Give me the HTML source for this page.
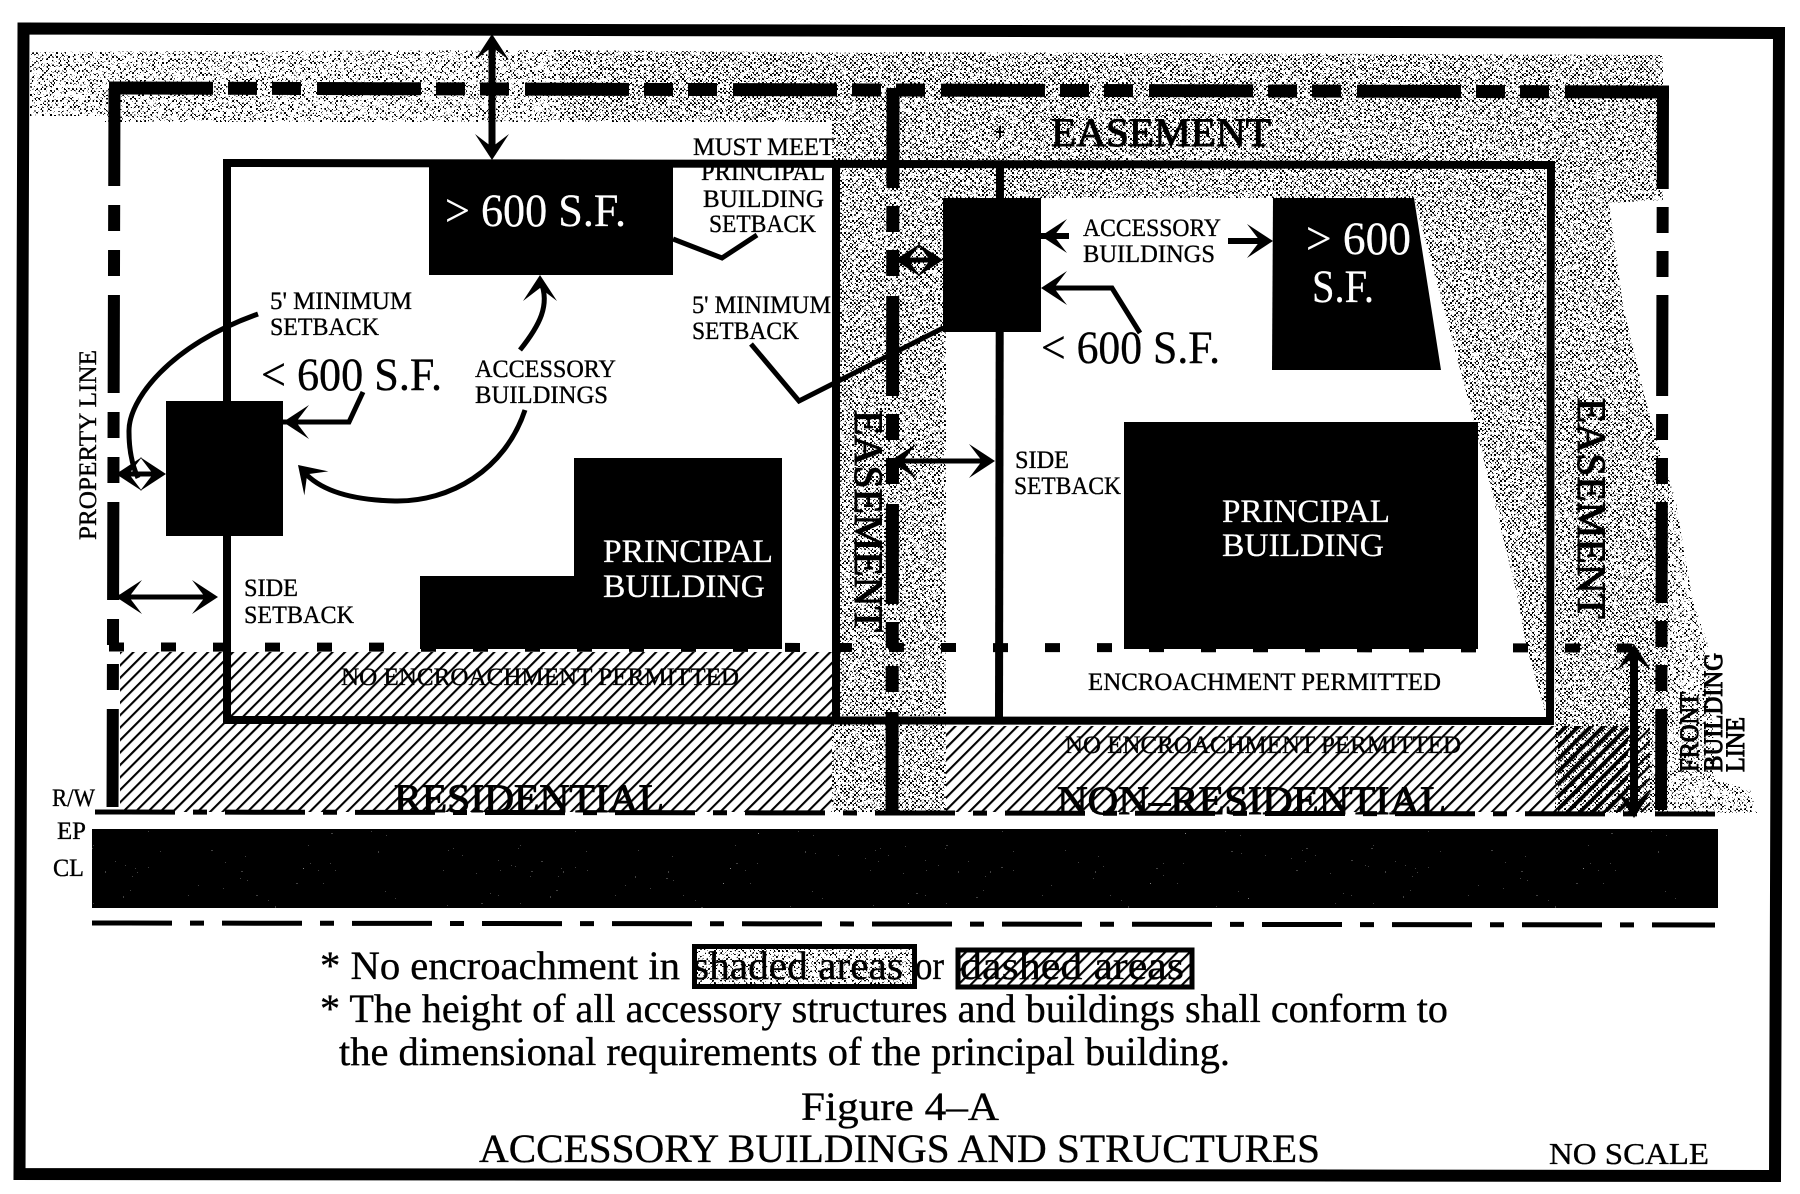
<!DOCTYPE html>
<html><head><meta charset="utf-8"><title>Figure 4-A</title>
<style>
html,body{margin:0;padding:0;background:#fff}
svg{display:block}
text{font-family:"Liberation Serif",serif;fill:#000;stroke:#000;stroke-width:.35px}
text.w{fill:#fff;stroke:#fff;stroke-width:.25px}
text.b{stroke-width:1px}
</style></head><body>
<svg xmlns="http://www.w3.org/2000/svg" width="1800" height="1194" viewBox="0 0 1800 1194">
<defs>
<pattern id="g" width="4" height="4" patternUnits="userSpaceOnUse">
<rect x="0" y="0" width="2" height="2" fill="#000"/><rect x="2" y="2" width="2" height="2" fill="#000"/>
</pattern>
<filter id="d" x="0" y="0" width="1" height="1" color-interpolation-filters="sRGB">
<feTurbulence type="fractalNoise" baseFrequency="0.34" numOctaves="2" seed="3" result="n"/>
<feColorMatrix in="n" values="0 0 0 0 0 0 0 0 0 0 0 0 0 0 0 0 0 0 1 0" result="a"/>
<feComponentTransfer in="a" result="t"><feFuncA type="discrete" tableValues="0 0 0 0 0 0 0 0 0 0 1 1 1 1 1 1 1 1 1 1"/></feComponentTransfer>
<feComposite in="SourceGraphic" in2="t" operator="in"/>
</filter>
<filter id="l" x="0" y="0" width="1" height="1" color-interpolation-filters="sRGB">
<feTurbulence type="fractalNoise" baseFrequency="0.34" numOctaves="2" seed="8" result="n"/>
<feColorMatrix in="n" values="0 0 0 0 0 0 0 0 0 0 0 0 0 0 0 0 0 0 1 0" result="a"/>
<feComponentTransfer in="a" result="t"><feFuncA type="discrete" tableValues="0 0 0 0 0 0 0 0 0 0 0 1 1 1 1 1 1 1 1 1"/></feComponentTransfer>
<feComposite in="SourceGraphic" in2="t" operator="in"/>
</filter>
<filter id="s" x="0" y="0" width="1" height="1" color-interpolation-filters="sRGB">
<feTurbulence type="fractalNoise" baseFrequency="0.6" numOctaves="1" seed="5"/>
<feColorMatrix values="0 0 0 0 1 0 0 0 0 1 0 0 0 0 1 0 0 0 1 0"/>
<feComponentTransfer><feFuncA type="discrete" tableValues="0 0 0 0 0 0 0 0 0 0 0 0 0 0 0 0 1 1 1 1"/></feComponentTransfer>
</filter>
<pattern id="h" width="8.8" height="10" patternUnits="userSpaceOnUse" patternTransform="rotate(45)">
<rect width="2.1" height="10" fill="#000"/>
</pattern>
<pattern id="hd" width="8.8" height="10" patternUnits="userSpaceOnUse" patternTransform="rotate(45)">
<rect width="3.8" height="10" fill="#000"/>
</pattern>
<clipPath id="cd">
<polygon points="560,50 880,53 880,122 560,122"/>
<polygon points="832,122 880,122 880,160 832,160"/>
<polygon points="880,52 1663,55 1663,200 1609,203 1623,306 1646,402 1660,450 1669,480 1669,813 1555,813 1555,168 880,168"/>
<polygon points="839,168 1546,168 1546,716 1526,644 1517,594 1474,421 1414,198 946,198 946,716 839,716"/>
<polygon points="832,724 946,724 946,812 832,812"/>
</clipPath>
<clipPath id="cl">
<polygon points="30,52 560,50 560,122 105,122 105,116 30,116"/>
<polygon points="1669,480 1675,497 1692,597 1707,640 1716,780 1750,790 1757,813 1669,813"/>
<rect x="696" y="948" width="216" height="36"/>
</clipPath>
<g id="a"><polygon points="0,0 -26,-17 -13,0 -26,17" fill="#000"/></g>
</defs>

<rect width="1800" height="1194" fill="#fff"/>

<!-- dithered grey easements -->
<g clip-path="url(#cd)"><rect x="0" y="0" width="1800" height="900" fill="url(#g)" filter="url(#d)"/></g>
<g clip-path="url(#cl)"><rect x="0" y="0" width="1800" height="1000" fill="url(#g)" filter="url(#l)"/></g>

<!-- hatched areas -->
<rect x="120" y="652" width="712" height="160" fill="url(#h)"/>
<rect x="946" y="726" width="704" height="86" fill="url(#h)"/>
<rect x="1558" y="726" width="70" height="86" fill="url(#hd)"/>

<!-- outer frame -->
<polygon points="23.5,28.5 1779,33 1775,1176 19.5,1174" fill="none" stroke="#000" stroke-width="12"/>

<!-- property lines -->
<g fill="none" stroke="#000">
<path d="M109,88 L1669,92" stroke-width="13" stroke-dasharray="104 15 29 15 29 16"/>
<path d="M114.5,88 L112.5,816" stroke-width="12" stroke-dasharray="98 19 26 19 26 19"/>
<path d="M893,88 L892,820" stroke-width="13" stroke-dasharray="100 18 26 18 26 20"/>
<path d="M1663,88 L1661,820" stroke-width="12" stroke-dasharray="101 18 26 18 26 18"/>
<path d="M109,647 L1660,648" stroke-width="9" stroke-dasharray="15 37"/>
<path d="M95,812 L1715,814" stroke-width="5" stroke-dasharray="80 18 14 18"/>
<path d="M92,923 L1715,925" stroke-width="5" stroke-dasharray="80 18 14 18"/>
<path d="M227,720 L227,163 L1551,165 L1550,721 L223,720 Z" stroke-width="8"/>
<path d="M836,163 L836,720" stroke-width="8"/>
<path d="M1000,165 L999,720" stroke-width="8"/>
</g>

<!-- road -->
<rect x="92" y="829" width="1626" height="79" fill="#000"/>
<rect x="92" y="829" width="1626" height="79" filter="url(#s)"/>

<!-- buildings -->
<g fill="#000">
<rect x="429" y="166" width="244" height="109"/>
<rect x="166" y="401" width="117" height="135"/>
<polygon points="574,458 782,458 782,649 420,649 420,576 574,576"/>
<rect x="943" y="198" width="98" height="134"/>
<polygon points="1273,198 1414,198 1441,370 1272,370"/>
<rect x="1124" y="422" width="354" height="227"/>
</g>

<!-- leaders and arrows -->
<g fill="none" stroke="#000" stroke-width="5">
<path d="M492,40 L492,155" stroke-width="7"/>
<path d="M258,314 C170,345 128,400 129,432 C129,450 132,465 138,478"/>
<path d="M118,474 L160,474"/>
<path d="M118,597 L212,597"/>
<path d="M363,392 L349,422 L275,422"/>
<path d="M520,350 C540,325 550,305 541,282"/>
<path d="M525,410 C505,470 450,502 395,501 C350,500 320,490 304,472"/>
<path d="M673,239 L722,258 L757,235"/>
<path d="M751,344 L799,401 L943,328"/>
<path d="M900,260 L938,260"/>
<path d="M893,461 L990,461"/>
<path d="M1035,236 L1069,236" stroke-width="6"/>
<path d="M1228,241 L1265,241" stroke-width="6"/>
<path d="M1140,333 L1112,288 L1050,288"/>
<path d="M1634,655 L1634,812" stroke-width="8"/>
<path d="M996,132 L1004,132 M1000,126 L1000,138" stroke-width="2"/>
</g>
<use href="#a" transform="translate(492,34) rotate(-90)"/>
<use href="#a" transform="translate(492,160) rotate(90)"/>
<use href="#a" transform="translate(116,474) rotate(180)"/>
<use href="#a" transform="translate(166,474)"/>
<use href="#a" transform="translate(116,597) rotate(180)"/>
<use href="#a" transform="translate(218,597)"/>
<use href="#a" transform="translate(283,422) rotate(180)"/>
<use href="#a" transform="translate(540,275) rotate(-90)"/>
<use href="#a" transform="translate(298,465) rotate(225)"/>
<use href="#a" transform="translate(895,260) rotate(180)"/>
<use href="#a" transform="translate(943,260)"/>
<use href="#a" transform="translate(890,461) rotate(180)"/>
<use href="#a" transform="translate(995,461)"/>
<use href="#a" transform="translate(1041,236) rotate(180)"/>
<use href="#a" transform="translate(1273,241)"/>
<use href="#a" transform="translate(1041,288) rotate(180)"/>
<use href="#a" transform="translate(1634,644) rotate(-90)"/>
<use href="#a" transform="translate(1634,818) rotate(90)"/>

<!-- labels -->
<g font-size="25">
<text x="693" y="155" textLength="141" lengthAdjust="spacingAndGlyphs">MUST MEET</text>
<text x="701" y="180" textLength="124" lengthAdjust="spacingAndGlyphs">PRINCIPAL</text>
<text x="703" y="207" textLength="121" lengthAdjust="spacingAndGlyphs">BUILDING</text>
<text x="709" y="232" textLength="107" lengthAdjust="spacingAndGlyphs">SETBACK</text>
<text x="270" y="309" textLength="142" lengthAdjust="spacingAndGlyphs">5' MINIMUM</text>
<text x="270" y="335" textLength="109" lengthAdjust="spacingAndGlyphs">SETBACK</text>
<text x="475" y="377" textLength="141" lengthAdjust="spacingAndGlyphs">ACCESSORY</text>
<text x="475" y="403" textLength="133" lengthAdjust="spacingAndGlyphs">BUILDINGS</text>
<text x="692" y="313" textLength="139" lengthAdjust="spacingAndGlyphs">5' MINIMUM</text>
<text x="692" y="339" textLength="107" lengthAdjust="spacingAndGlyphs">SETBACK</text>
<text x="244" y="596" textLength="54" lengthAdjust="spacingAndGlyphs">SIDE</text>
<text x="244" y="623" textLength="110" lengthAdjust="spacingAndGlyphs">SETBACK</text>
<text x="1083" y="236" textLength="138" lengthAdjust="spacingAndGlyphs">ACCESSORY</text>
<text x="1083" y="262" textLength="132" lengthAdjust="spacingAndGlyphs">BUILDINGS</text>
<text x="1015" y="468" textLength="54" lengthAdjust="spacingAndGlyphs">SIDE</text>
<text x="1014" y="494" textLength="107" lengthAdjust="spacingAndGlyphs">SETBACK</text>
<text x="341" y="685" textLength="398" lengthAdjust="spacingAndGlyphs">NO ENCROACHMENT PERMITTED</text>
<text x="1088" y="690" textLength="353" lengthAdjust="spacingAndGlyphs">ENCROACHMENT PERMITTED</text>
<text x="1065" y="753" textLength="396" lengthAdjust="spacingAndGlyphs">NO ENCROACHMENT PERMITTED</text>
<text transform="translate(96,540) rotate(-90)" textLength="190" lengthAdjust="spacingAndGlyphs">PROPERTY LINE</text>
<text class="b" font-size="26" transform="translate(1698,772) rotate(-90)" textLength="80" lengthAdjust="spacingAndGlyphs">FRONT</text>
<text class="b" font-size="26" transform="translate(1722,772) rotate(-90)" textLength="119" lengthAdjust="spacingAndGlyphs">BUILDING</text>
<text class="b" font-size="26" transform="translate(1744,772) rotate(-90)" textLength="55" lengthAdjust="spacingAndGlyphs">LINE</text>
<text x="52" y="806" textLength="43" lengthAdjust="spacingAndGlyphs">R/W</text>
<text x="57" y="839" textLength="29" lengthAdjust="spacingAndGlyphs">EP</text>
<text x="53" y="876" textLength="31" lengthAdjust="spacingAndGlyphs">CL</text>
</g>

<g font-size="47">
<text class="w" x="445" y="226" textLength="181" lengthAdjust="spacingAndGlyphs">&gt; 600 S.F.</text>
<text x="261" y="390" textLength="181" lengthAdjust="spacingAndGlyphs">&lt; 600 S.F.</text>
<text class="w" x="1306" y="254" textLength="105" lengthAdjust="spacingAndGlyphs">&gt; 600</text>
<text class="w" x="1312" y="302" textLength="62" lengthAdjust="spacingAndGlyphs">S.F.</text>
<text x="1041" y="363" textLength="179" lengthAdjust="spacingAndGlyphs">&lt; 600 S.F.</text>
</g>

<g font-size="33">
<text class="w" x="603" y="562" textLength="170" lengthAdjust="spacingAndGlyphs">PRINCIPAL</text>
<text class="w" x="603" y="597" textLength="162" lengthAdjust="spacingAndGlyphs">BUILDING</text>
<text class="w" x="1222" y="522" textLength="168" lengthAdjust="spacingAndGlyphs">PRINCIPAL</text>
<text class="w" x="1222" y="556" textLength="162" lengthAdjust="spacingAndGlyphs">BUILDING</text>
</g>

<g font-size="40">
<text class="b" x="1051" y="146" textLength="220" lengthAdjust="spacingAndGlyphs">EASEMENT</text>
<text class="b" transform="translate(855,410) rotate(90)" textLength="222" lengthAdjust="spacingAndGlyphs">EASEMENT</text>
<text class="b" transform="translate(1578,398) rotate(90)" textLength="221" lengthAdjust="spacingAndGlyphs">EASEMENT</text>
<text class="b" x="394" y="812" textLength="270" lengthAdjust="spacingAndGlyphs">RESIDENTIAL</text>
<text class="b" x="1057" y="814" textLength="389" lengthAdjust="spacingAndGlyphs">NON–RESIDENTIAL</text>
</g>

<!-- notes -->
<rect x="694.5" y="946.5" width="220" height="40" fill="none" stroke="#000" stroke-width="5"/>
<rect x="958" y="950" width="234" height="37" fill="#fff"/>
<rect x="958" y="950" width="234" height="37" fill="url(#h)"/>
<rect x="958" y="950" width="234" height="37" fill="none" stroke="#000" stroke-width="5"/>
<g font-size="40">
<text x="320" y="979" textLength="360" lengthAdjust="spacingAndGlyphs">* No encroachment in</text>
<text x="693" y="979" textLength="210" lengthAdjust="spacingAndGlyphs">shaded areas</text>
<text x="915" y="979" textLength="29" lengthAdjust="spacingAndGlyphs">or</text>
<text x="960" y="979" textLength="224" lengthAdjust="spacingAndGlyphs">dashed areas</text>
<text x="320" y="1022" textLength="1128" lengthAdjust="spacingAndGlyphs">* The height of all accessory structures and buildings shall conform to</text>
<text x="339" y="1065" textLength="891" lengthAdjust="spacingAndGlyphs">the dimensional requirements of the principal building.</text>
<text x="801" y="1120" textLength="198" lengthAdjust="spacingAndGlyphs">Figure 4–A</text>
<text x="479" y="1162" textLength="841" lengthAdjust="spacingAndGlyphs">ACCESSORY BUILDINGS AND STRUCTURES</text>
</g>
<text font-size="31" x="1549" y="1164" textLength="160" lengthAdjust="spacingAndGlyphs">NO SCALE</text>
</svg>
</body></html>
